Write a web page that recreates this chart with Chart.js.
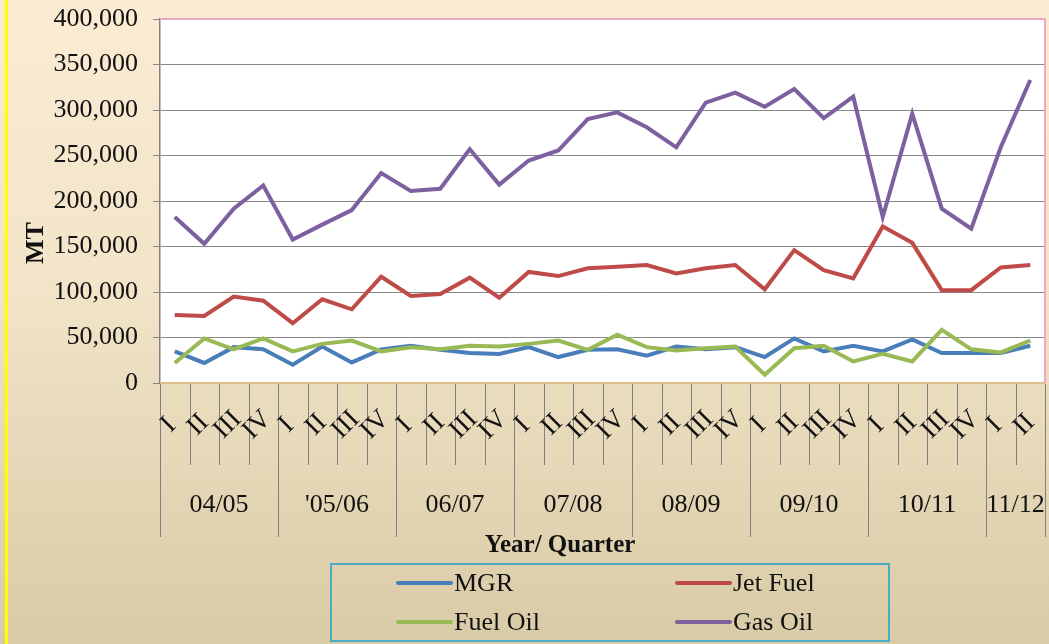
<!DOCTYPE html>
<html lang="en">
<head>
  <meta charset="UTF-8">
  <title>MT by Year / Quarter</title>
  <script src="https://cdn.jsdelivr.net/npm/chart.js"></script>
  <style>
    html, body { margin: 0; padding: 0; }
    .wrap {
      width: 1049px; height: 644px; position: relative;
      background: linear-gradient(to bottom, #fbecd3 0%, #f1e4c8 45%, #d9cba6 100%);
    }
    .wrap:before {
      content: ''; position: absolute; left: 5px; top: 0; width: 3px; height: 644px; background: #ffff00;
    }
    canvas { position: absolute; left: 0; top: 0; }
  </style>
</head>
<body>
  <div class="wrap">
    <canvas id="chart" width="1049" height="644"></canvas>
  </div>

  <script>
    // data (MT per quarter)
    const years = ['04/05', "'05/06", '06/07', '07/08', '08/09', '09/10', '10/11', '11/12'];
    const quarters = ['I', 'II', 'III', 'IV', 'I', 'II', 'III', 'IV', 'I', 'II', 'III', 'IV', 'I', 'II', 'III', 'IV',
                      'I', 'II', 'III', 'IV', 'I', 'II', 'III', 'IV', 'I', 'II', 'III', 'IV', 'I', 'II'];

    const mgr = [34700, 22000, 39400, 37000, 20000, 40000, 22600, 37000, 41000, 36500, 33000, 31800, 39400, 28500, 36500,
                 37000, 30000, 40000, 37000, 39400, 28500, 49000, 34700, 41000, 34700, 48000, 33000, 33000, 33000, 41000];
    const jetFuel = [74800, 73700, 95000, 90500, 65700, 92000, 81000, 116800, 95600, 97800, 115700, 93800, 122000, 117500, 126000,
                     127700, 129600, 120400, 126000, 129600, 103000, 146000, 124000, 115000, 172000, 154000, 102000, 102000, 127000, 129600];
    const fuelOil = [22000, 49000, 37000, 49000, 34700, 43000, 46700, 34700, 39400, 37000, 41000, 40000, 43000, 46700, 36500,
                     53000, 39400, 35800, 38300, 40000, 9000, 38300, 41000, 23700, 32000, 23700, 58400, 37000, 33600, 46700];
    const gasOil = [182500, 153000, 191600, 217000, 157700, 174000, 190000, 230700, 211000, 213500, 257000, 218000, 244500, 255500, 290000,
                    297400, 281000, 259000, 308000, 319000, 303600, 323000, 291000, 314600, 182500, 296000, 191600, 169700, 259000, 333000];

    // one label per point, year + quarter
    const labels = [];
    let y = -1;
    quarters.forEach(q => {
      if (q === 'I') y++;
      labels.push(years[y] + ' ' + q);
    });

    const serif = '"Liberation Serif", "Times New Roman", serif';

    function drawLegendItem(ctx, x, yy, color, text) {
      ctx.strokeStyle = color;
      ctx.lineWidth = 4;
      ctx.lineCap = 'round';
      ctx.beginPath();
      ctx.moveTo(x, yy);
      ctx.lineTo(x + 53, yy);
      ctx.stroke();
      ctx.fillStyle = '#111';
      ctx.textAlign = 'left';
      ctx.textBaseline = 'middle';
      ctx.fillText(text, x + 56, yy + 1);
    }

    const extras = {
      id: 'extras',
      beforeDraw(chart) {
        const { ctx, chartArea: a } = chart;
        ctx.save();
        ctx.fillStyle = '#ffffff';
        ctx.fillRect(a.left, a.top, a.right - a.left, a.bottom - a.top);
        ctx.restore();
      },
      afterDraw(chart) {
        const { ctx, chartArea: a } = chart;
        const xs = chart.scales.x;
        ctx.save();

        // plot border
        ctx.strokeStyle = '#eba7c6';
        ctx.lineWidth = 2;
        ctx.beginPath();
        ctx.moveTo(a.left, a.top);
        ctx.lineTo(a.right, a.top);
        ctx.lineTo(a.right, a.bottom);
        ctx.stroke();
        ctx.strokeStyle = '#e2bc8c';
        ctx.beginPath();
        ctx.moveTo(a.left, a.bottom);
        ctx.lineTo(a.right, a.bottom);
        ctx.stroke();

        // category separators
        const step = xs.getPixelForValue(1) - xs.getPixelForValue(0);
        ctx.strokeStyle = '#7f7f7f';
        ctx.lineWidth = 1;
        quarters.forEach((q, i) => {
          const bx = Math.round(xs.getPixelForValue(i) - step / 2) + 0.5;
          ctx.beginPath();
          ctx.moveTo(bx, a.bottom + 1);
          ctx.lineTo(bx, q === 'I' ? 537 : 465);
          ctx.stroke();
        });
        const endX = Math.round(xs.getPixelForValue(quarters.length - 1) + step / 2) + 0.5;
        ctx.beginPath();
        ctx.moveTo(endX, a.bottom + 1);
        ctx.lineTo(endX, 537);
        ctx.stroke();

        // quarter labels, rotated
        ctx.fillStyle = '#111';
        ctx.font = '27px ' + serif;
        ctx.textAlign = 'center';
        ctx.textBaseline = 'middle';
        quarters.forEach((q, i) => {
          ctx.save();
          ctx.translate(xs.getPixelForValue(i) - 6, 425);
          ctx.rotate(-Math.PI / 4);
          ctx.fillText(q, 0, 0);
          ctx.restore();
        });

        // year labels, centred in their group
        ctx.font = '26px ' + serif;
        let start = 0;
        years.forEach((yr, k) => {
          let end = start + 1;
          while (end < quarters.length && quarters[end] !== 'I') end++;
          const cx = (xs.getPixelForValue(start) + xs.getPixelForValue(end - 1)) / 2;
          ctx.fillText(yr, cx, 505);
          start = end;
        });

        // axis titles
        ctx.font = 'bold 25px ' + serif;
        ctx.fillText('Year/ Quarter', 560, 546);
        ctx.save();
        ctx.translate(36, 243);
        ctx.rotate(-Math.PI / 2);
        ctx.font = 'bold 26px ' + serif;
        ctx.fillText('MT', 0, 0);
        ctx.restore();

        // legend
        ctx.strokeStyle = '#4bacc6';
        ctx.lineWidth = 2;
        ctx.strokeRect(331, 564, 558, 77);
        ctx.font = '26px ' + serif;
        const ds = chart.data.datasets;
        drawLegendItem(ctx, 398, 583, ds[0].borderColor, ds[0].label);
        drawLegendItem(ctx, 677, 583, ds[1].borderColor, ds[1].label);
        drawLegendItem(ctx, 398, 622, ds[2].borderColor, ds[2].label);
        drawLegendItem(ctx, 677, 622, ds[3].borderColor, ds[3].label);

        ctx.restore();
      }
    };

    function series(label, data, color, order) {
      return {
        label: label,
        data: data,
        borderColor: color,
        backgroundColor: color,
        borderWidth: 4,
        pointRadius: 0,
        tension: 0,
        fill: false,
        order: order
      };
    }

    new Chart(document.getElementById('chart').getContext('2d'), {
      type: 'line',
      data: {
        labels: labels,
        datasets: [
          series('MGR', mgr, '#4a7ebb', 4),
          series('Jet Fuel', jetFuel, '#be4b48', 3),
          series('Fuel Oil', fuelOil, '#98b954', 2),
          series('Gas Oil', gasOil, '#7d60a0', 1)
        ]
      },
      options: {
        responsive: false,
        animation: false,
        layout: { padding: { top: 19, right: 4, bottom: 261, left: 0 } },
        plugins: {
          legend: { display: false },
          title: { display: false },
          tooltip: { enabled: false }
        },
        scales: {
          x: { display: false, offset: true },
          y: {
            min: 0,
            max: 400000,
            afterFit: s => { s.width = 160; s.paddingTop = 0; s.paddingBottom = 0; },
            ticks: {
              stepSize: 50000,
              padding: 15,
              color: '#111',
              font: { family: serif, size: 26 }
            },
            grid: { color: '#878787', lineWidth: 1, tickLength: 7, tickColor: '#878787' },
            border: { color: '#8a7f7f', width: 1.5 }
          }
        }
      },
      plugins: [extras]
    });
  </script>
</body>
</html>
